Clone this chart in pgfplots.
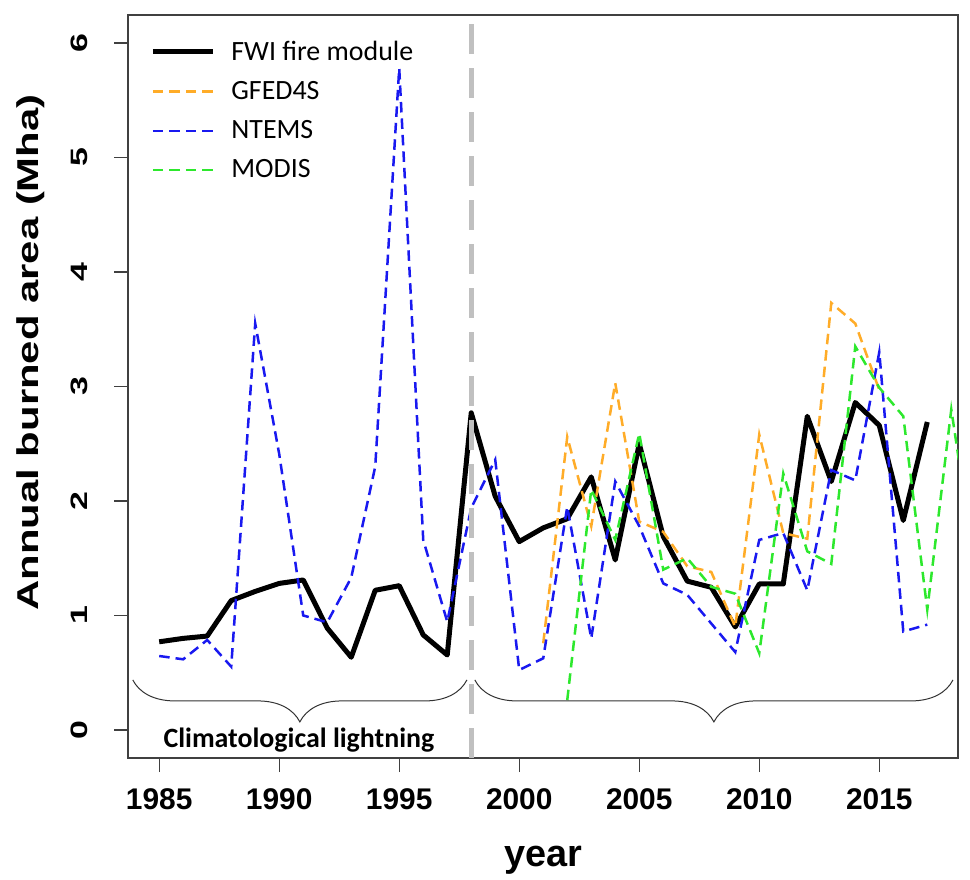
\documentclass[border=0pt]{standalone}
\usepackage{pgfplots}
\pgfplotsset{compat=1.18}
\usepackage{fontspec}
\setmainfont{Liberation Sans}
\newfontfamily\carlito{Carlito}
\usetikzlibrary{decorations.pathreplacing}
\definecolor{gfed}{RGB}{255,172,40}
\definecolor{ntems}{RGB}{25,25,240}
\definecolor{modis}{RGB}{45,232,45}
\definecolor{vline}{RGB}{192,192,192}
\begin{document}
\begin{tikzpicture}
\useasboundingbox (-64bp,-61bp) rectangle (421bp,379bp);
\begin{axis}[
  at={(0,0)}, anchor=south west,
  scale only axis, width=415bp, height=371.5bp,
  xmin=1983.70, xmax=2018.28, ymin=-0.245, ymax=6.245,
  xtick={1985,1990,...,2015}, ytick={0,1,...,6},
  xtick pos=bottom, ytick pos=left, tick align=outside,
  major tick length=7bp,
  every tick/.style={black!75, line width=0.6bp},
  axis line style={black!75, line width=0.6bp},
  /pgf/number format/assume math mode=true,
  /pgf/number format/set thousands separator={},
  ticklabel style={font=\fontsize{15}{18}\selectfont\bfseries},
  xticklabel style={anchor=north, inner sep=0pt, yshift=-8bp},
  yticklabel style={xshift=-13bp, rotate=90, anchor=south, inner sep=0pt, font=\fontsize{17}{20}\selectfont\bfseries},
  yticklabel={\scalebox{1}[0.7]{\pgfmathprintnumber{\tick}}},
  xlabel={year},
  xlabel style={font=\fontsize{19}{22}\selectfont\bfseries, at={(axis description cs:0.5,-0.1454)}, anchor=base},
  ylabel={\scalebox{1}[0.72]{Annual burned area (Mha)}},
  ylabel style={font=\fontsize{21}{24}\selectfont\bfseries, at={(axis description cs:-0.1169,0.5458)}, anchor=center},
  legend style={draw=none, fill=none, at={(0,1)}, anchor=north west, xshift=11bp, yshift=-12.7bp,
    font=\carlito\fontsize{14}{16}\selectfont, inner sep=0pt, row sep=9bp, column sep=8bp,
    nodes={inner sep=0pt}},
  legend cell align=left,
  legend image code/.code={\draw[#1] (0bp,0bp) -- (30bp,0bp);},
]
\addplot[black, line width=2.5bp, line join=round] coordinates {
(1985,0.77) (1986,0.80) (1987,0.82) (1988,1.13) (1989,1.21) (1990,1.28) (1991,1.31)
(1992,0.89) (1993,0.635) (1994,1.22) (1995,1.26) (1996,0.83) (1997,0.655) (1998,2.77)
(1999,2.04) (2000,1.645) (2001,1.765) (2002,1.845) (2003,2.21) (2004,1.485) (2005,2.50)
(2006,1.69) (2007,1.30) (2008,1.246) (2009,0.90) (2010,1.275) (2011,1.275) (2012,2.74)
(2013,2.17) (2014,2.86) (2015,2.66) (2016,1.83) (2017,2.69)};
\addlegendentry{FWI fire module}
\addplot[gfed, line width=1.25bp, dash pattern=on 5.25bp off 3bp] coordinates {
(2001,0.757) (2002,2.56) (2003,1.78) (2004,3.03) (2005,1.82) (2006,1.73) (2007,1.43)
(2008,1.38) (2009,0.90) (2010,2.58) (2011,1.72) (2012,1.67) (2013,3.73) (2014,3.55) (2015,2.97)};
\addlegendentry{GFED4S}
\addplot[ntems, line width=1.25bp, dash pattern=on 5.25bp off 3bp] coordinates {
(1985,0.646) (1986,0.617) (1987,0.786) (1988,0.553) (1989,3.55) (1990,2.41) (1991,1.00)
(1992,0.94) (1993,1.33) (1994,2.30) (1995,5.78) (1996,1.66) (1997,0.946) (1998,1.94)
(1999,2.36) (2000,0.524) (2001,0.626) (2002,1.95) (2003,0.80) (2004,2.17) (2005,1.78)
(2006,1.28) (2007,1.18) (2008,0.93) (2009,0.68) (2010,1.66) (2011,1.72) (2012,1.22)
(2013,2.27) (2014,2.18) (2015,3.30) (2016,0.86) (2017,0.92)};
\addlegendentry{NTEMS}
\addplot[modis, line width=1.25bp, dash pattern=on 5.25bp off 3bp] coordinates {
(2002,0.26) (2003,2.10) (2004,1.66) (2005,2.59) (2006,1.40) (2007,1.50) (2008,1.25)
(2009,1.19) (2010,0.67) (2011,2.24) (2012,1.56) (2013,1.45) (2014,3.35) (2015,2.99)
(2016,2.74) (2017,1.05) (2018,2.80) (2019,1.40)};
\addlegendentry{MODIS}
\addplot[vline, line width=2.5bp, dash pattern=on 15bp off 7bp, forget plot] coordinates {(1998,-0.245) (1998,6.245)};
\draw[black!80, line width=0.5bp, decorate, decoration={brace, mirror, amplitude=21bp}]
  (axis cs:1983.90,0.437) -- (axis cs:1997.82,0.437);
\draw[black!80, line width=0.5bp, decorate, decoration={brace, mirror, amplitude=21bp}]
  (axis cs:1998.15,0.437) -- (axis cs:2018.07,0.437);
\node[font=\carlito\bfseries\fontsize{14}{16}\selectfont] at (axis cs:1990.82,-0.09) {Climatological lightning};
\end{axis}
\end{tikzpicture}
\end{document}
